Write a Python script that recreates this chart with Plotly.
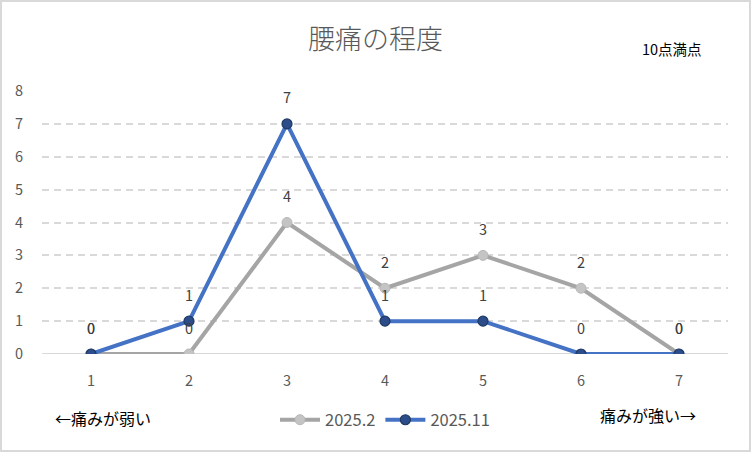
import plotly.graph_objects as go

categories = ["1", "2", "3", "4", "5", "6", "7"]
series_feb = [0, 0, 4, 2, 3, 2, 0]
series_nov = [0, 1, 7, 1, 1, 0, 0]
name_feb = "2025.2"
name_nov = "2025.11"
title = "腰痛の程度"
note = "10点満点"
left_label = "←痛みが弱い"
right_label = "痛みが強い→"

FONT = "Noto Sans CJK JP, Calibri, Liberation Sans, sans-serif"
W, H = 751, 452
L, R, T, B = 42, 23, 91, 98
pw, ph = W - L - R, H - T - B

fig = go.Figure()
fig.add_trace(go.Scatter(
    x=categories, y=series_feb, name=name_feb, mode="lines+markers",
    line=dict(color="#a5a5a5", width=4),
    marker=dict(color="#c4c4c4", size=10, line=dict(color="#b8b8b8", width=1)),
))
fig.add_trace(go.Scatter(
    x=categories, y=series_nov, name=name_nov, mode="lines+markers",
    line=dict(color="#4472c4", width=4),
    marker=dict(color="#2c4d8a", size=10, line=dict(color="#1f3864", width=1.2)),
))


def px(x):
    return (x - L) / pw


def py(y):
    return (H - B - y) / ph


annotations = []
for series in (series_feb, series_nov):
    for i, v in enumerate(series):
        annotations.append(dict(
            x=i, y=v, xref="x", yref="y", text=str(v), showarrow=False,
            yshift=27, xanchor="center", yanchor="middle",
            font=dict(size=14.5, color="#404040", family=FONT)))

annotations += [
    dict(text=note, x=px(672), y=py(48), xref="paper", yref="paper", showarrow=False,
         font=dict(size=14.5, color="#000000", family=FONT), xanchor="center", yanchor="middle"),
    dict(text=left_label, x=px(103), y=py(418), xref="paper", yref="paper", showarrow=False,
         font=dict(size=16, color="#000000", family=FONT), xanchor="center", yanchor="middle"),
    dict(text=right_label, x=px(648), y=py(415), xref="paper", yref="paper", showarrow=False,
         font=dict(size=16, color="#000000", family=FONT), xanchor="center", yanchor="middle"),
]

fig.update_layout(
    width=W, height=H,
    margin=dict(l=L, r=R, t=T, b=B),
    paper_bgcolor="white", plot_bgcolor="white",
    font=dict(family=FONT, color="#595959"),
    title=dict(text=title, x=0.5, xanchor="center", y=1 - 40 / H, yanchor="middle",
               font=dict(size=27, color="#595959", family=FONT, weight=300)),
    xaxis=dict(type="category", range=[-0.5, 6.5], showgrid=False, zeroline=False,
               showline=False, ticks="", tickfont=dict(size=14.5, color="#595959"),
               ticklabelstandoff=16),
    yaxis=dict(range=[0, 8], dtick=1, showgrid=True, gridcolor="#d9d9d9", griddash="7px,5px",
               gridwidth=1.5, zeroline=False, showline=False, ticks="",
               tickfont=dict(size=14.5, color="#595959"), ticklabelstandoff=18),
    showlegend=True,
    legend=dict(orientation="h", x=0.5, xanchor="center", y=py(420), yanchor="middle",
                font=dict(size=16.5, color="#595959"), bgcolor="rgba(0,0,0,0)",
                itemwidth=40),
    annotations=annotations,
    shapes=[
        dict(type="line", xref="paper", yref="y", x0=0, x1=1, y0=0, y1=0,
             line=dict(color="#d9d9d9", width=2), layer="below"),
        dict(type="rect", xref="paper", yref="paper", x0=px(1), x1=px(W - 1), y0=py(H - 1), y1=py(1),
             line=dict(color="#d9d9d9", width=2), layer="below"),
    ],
)

fig.write_html("out.html", config={"displayModeBar": False},
               post_script="document.body.style.margin='0';document.body.style.padding='0';")
